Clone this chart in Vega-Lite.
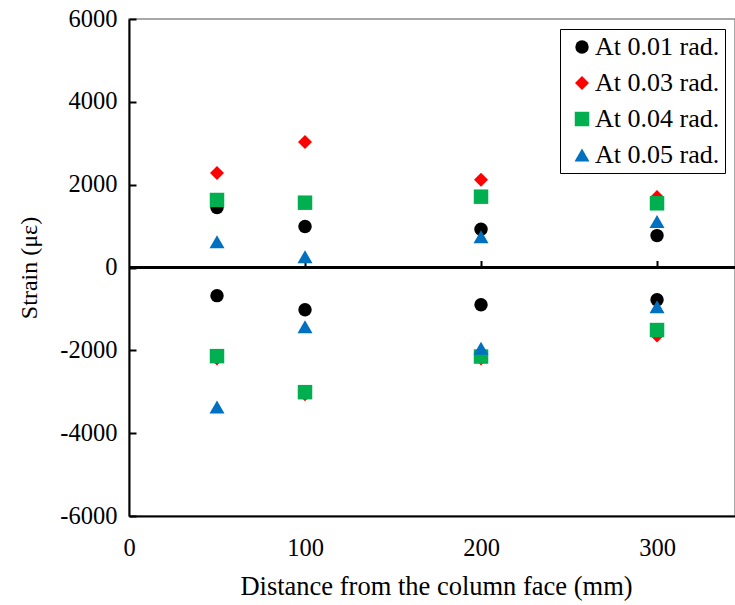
{
  "$schema": "https://vega.github.io/schema/vega-lite/v6.json",
  "width": 606,
  "height": 497,
  "autosize": {"type": "none"},
  "padding": {"left": 129, "top": 19, "right": 0, "bottom": 89},
  "config": {
    "font": "Times New Roman, Liberation Serif, serif",
    "view": {"stroke": "#8c8c8c", "strokeWidth": 1.5},
    "axis": {"grid": false, "labelFont": "Times New Roman, Liberation Serif, serif", "titleFont": "Times New Roman, Liberation Serif, serif", "labelColor": "#000", "titleColor": "#000", "titleFontWeight": "normal", "labelFlush": false},
    "legend": {"labelFont": "Times New Roman, Liberation Serif, serif"}
  },
  "data": {
    "values": [
      {"d": 50, "s": 1450, "series": "At 0.01 rad."},
      {"d": 100, "s": 990, "series": "At 0.01 rad."},
      {"d": 200, "s": 925, "series": "At 0.01 rad."},
      {"d": 300, "s": 770, "series": "At 0.01 rad."},
      {"d": 50, "s": -680, "series": "At 0.01 rad."},
      {"d": 100, "s": -1020, "series": "At 0.01 rad."},
      {"d": 200, "s": -900, "series": "At 0.01 rad."},
      {"d": 300, "s": -780, "series": "At 0.01 rad."},
      {"d": 50, "s": 2280, "series": "At 0.03 rad."},
      {"d": 100, "s": 3030, "series": "At 0.03 rad."},
      {"d": 200, "s": 2120, "series": "At 0.03 rad."},
      {"d": 300, "s": 1700, "series": "At 0.03 rad."},
      {"d": 50, "s": -2200, "series": "At 0.03 rad."},
      {"d": 100, "s": -3060, "series": "At 0.03 rad."},
      {"d": 200, "s": -2200, "series": "At 0.03 rad."},
      {"d": 300, "s": -1640, "series": "At 0.03 rad."},
      {"d": 50, "s": 1630, "series": "At 0.04 rad."},
      {"d": 100, "s": 1565, "series": "At 0.04 rad."},
      {"d": 200, "s": 1710, "series": "At 0.04 rad."},
      {"d": 300, "s": 1550, "series": "At 0.04 rad."},
      {"d": 50, "s": -2140, "series": "At 0.04 rad."},
      {"d": 100, "s": -3010, "series": "At 0.04 rad."},
      {"d": 200, "s": -2150, "series": "At 0.04 rad."},
      {"d": 300, "s": -1510, "series": "At 0.04 rad."},
      {"d": 50, "s": 620, "series": "At 0.05 rad."},
      {"d": 100, "s": 260, "series": "At 0.05 rad."},
      {"d": 200, "s": 740, "series": "At 0.05 rad."},
      {"d": 300, "s": 1110, "series": "At 0.05 rad."},
      {"d": 50, "s": -3370, "series": "At 0.05 rad."},
      {"d": 100, "s": -1430, "series": "At 0.05 rad."},
      {"d": 200, "s": -1950, "series": "At 0.05 rad."},
      {"d": 300, "s": -950, "series": "At 0.05 rad."}
    ]
  },
  "layer": [
    {
      "mark": {"type": "rule", "color": "#000", "strokeWidth": 2},
      "encoding": {
        "y": {"datum": 0, "type": "quantitative", "scale": {"domain": [-6000, 6000]}},
        "x": {"datum": 0, "type": "quantitative", "scale": {"domain": [0, 344.3]},
          "axis": {"orient": "bottom", "offset": -248.5, "labels": false, "title": null, "domain": false, "ticks": true, "tickSize": -7, "tickColor": "#000", "tickWidth": 2, "values": [100, 200, 300]}},
        "x2": {"datum": 344.3}
      }
    },
    {
      "mark": {"type": "point", "filled": true, "opacity": 1},
      "encoding": {
        "x": {"field": "d", "type": "quantitative", "scale": {"domain": [0, 344.3], "nice": false},
          "axis": {"orient": "bottom", "values": [0, 100, 200, 300], "labelExpr": "toString(datum.value)", "ticks": false, "domain": true, "domainColor": "#000", "domainWidth": 2, "labelFontSize": 24.5, "labelPadding": 20, "labelFlush": false, "title": "Distance from the column face (mm)", "titleFontSize": 26.5, "titleX": 307, "titleY": 78, "titleBaseline": "alphabetic"}},
        "y": {"field": "s", "type": "quantitative", "scale": {"domain": [-6000, 6000], "nice": false},
          "axis": {"values": [-6000, -4000, -2000, 0, 2000, 4000, 6000], "labelExpr": "toString(datum.value)", "tickSize": -7, "tickColor": "#000", "tickWidth": 2, "domainColor": "#000", "domainWidth": 2, "labelFontSize": 24.5, "labelPadding": 19, "labelFlush": false, "title": "Strain (με)", "titleFontSize": 24, "titleX": -93, "titleY": 248.5, "titleBaseline": "alphabetic", "titleAngle": -90, "titleAlign": "center"}},
        "color": {"field": "series", "type": "nominal",
          "scale": {"domain": ["At 0.01 rad.", "At 0.03 rad.", "At 0.04 rad.", "At 0.05 rad."], "range": ["#000000", "#FF0000", "#00B050", "#0070C0"]},
          "legend": {"title": null, "orient": "none", "legendX": 431, "legendY": 10, "labelFontSize": 26, "labelFont": "Times New Roman, Liberation Serif, serif", "labelColor": "#000", "strokeColor": "#000", "fillColor": "#fff", "padding": 5, "rowPadding": 10, "symbolOffset": 4, "symbolStrokeWidth": 0, "labelOffset": 0}},
        "shape": {"field": "series", "type": "nominal",
          "scale": {"domain": ["At 0.01 rad.", "At 0.03 rad.", "At 0.04 rad.", "At 0.05 rad."], "range": ["circle", "diamond", "square", "triangle-up"]}},
        "size": {"field": "series", "type": "nominal",
          "scale": {"domain": ["At 0.01 rad.", "At 0.03 rad.", "At 0.04 rad.", "At 0.05 rad."], "range": [180, 225, 225, 256]}}
      }
    }
  ],
  "resolve": {"axis": {"x": "independent"}}
}
